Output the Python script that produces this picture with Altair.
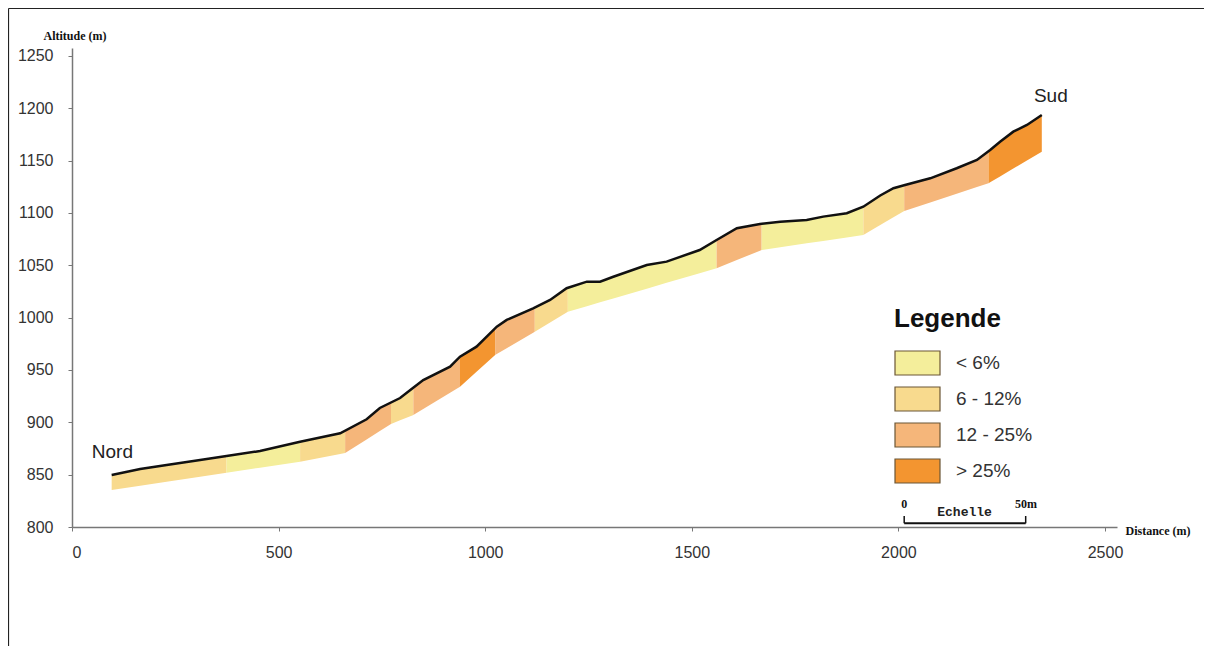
import altair as alt
import numpy as np
import pandas as pd

# ---- profile (top line): distance (m), altitude (m)
dist_top = [96, 165, 229, 310, 374, 455, 552, 649, 713, 745, 794, 825, 850, 915, 939,
            979, 1028, 1052, 1116, 1157, 1197, 1246, 1278, 1310, 1391, 1439, 1519,
            1560, 1609, 1665, 1714, 1778, 1818, 1875, 1915, 1956, 1988, 2016, 2077,
            2141, 2190, 2222, 2246, 2278, 2311, 2347]
alt_top = [849.7, 855.4, 859.2, 864.0, 867.8, 872.6, 881.5, 889.5, 902.9, 913.7, 923.2,
           932.8, 940.4, 953.2, 962.7, 972.3, 991.4, 997.8, 1008.9, 1016.9, 1028.1,
           1034.4, 1034.4, 1039.1, 1050.3, 1053.5, 1064.6, 1074.2, 1085.4, 1089.5,
           1091.7, 1093.3, 1096.5, 1099.7, 1106.0, 1116.7, 1123.6, 1126.7, 1133.1,
           1142.7, 1150.6, 1160.2, 1168.1, 1177.7, 1184.1, 1193.6]

# ---- slope segments: boundaries (m), base altitude at boundaries, class
seg_break_dist = [96, 374, 552, 661, 772, 826, 939, 1024, 1120, 1200, 1560, 1669,
                  1915, 2014, 2218, 2347]
seg_base_alt = [835.3, 851.9, 862.4, 870.7, 898.4, 907.0, 934.0, 964.3, 986.6,
                1005.7, 1047.2, 1064.6, 1079.0, 1101.9, 1128.4, 1158.6]
seg_class = ["6 - 12%", "< 6%", "6 - 12%", "12 - 25%", "6 - 12%", "12 - 25%",
             "> 25%", "12 - 25%", "6 - 12%", "< 6%", "12 - 25%", "< 6%",
             "6 - 12%", "12 - 25%", "> 25%"]

class_names = ["< 6%", "6 - 12%", "12 - 25%", "> 25%"]
class_colors = ["#F4EE9B", "#F8DA8E", "#F5B67A", "#F39530"]

x_ticks = [0, 500, 1000, 1500, 2000, 2500]
y_ticks = [800, 850, 900, 950, 1000, 1050, 1100, 1150, 1200, 1250]

# labels
place_names = ["Nord", "Sud"]
place_dist = [48, 2328]
place_alt = [871.7, 1211.8]

# scale bar ("Echelle")
bar_dist = [2014, 2308]
bar_alt = 803.5
bar_tick_alt = 810.5
bar_texts = ["0", "Echelle", "50m"]
bar_text_dist = [2014, 2160, 2309]
bar_text_alt = [822.0, 814.5, 822.0]

# ---- build tables
rows = []
for i, cls in enumerate(seg_class):
    a, b = seg_break_dist[i], seg_break_dist[i + 1]
    xs = [a] + [d for d in dist_top if a < d < b] + [b]
    tops = np.interp(xs, dist_top, alt_top)
    bots = np.interp(xs, [a, b], [seg_base_alt[i], seg_base_alt[i + 1]])
    for x, t, bt in zip(xs, tops, bots):
        rows.append({"seg": i, "classe": cls, "d": x, "top": t, "bot": bt})
area_df = pd.DataFrame(rows)
line_df = pd.DataFrame({"d": dist_top, "alt": alt_top})
place_df = pd.DataFrame({"name": place_names, "d": place_dist, "alt": place_alt})
bar_df = pd.DataFrame({"d": [bar_dist[0]], "d2": [bar_dist[1]], "alt": [bar_alt]})
bar_ticks_df = pd.DataFrame({"d": bar_dist, "alt": [bar_alt] * 2, "alt2": [bar_tick_alt] * 2})
bar_text_df = pd.DataFrame({"t": bar_texts, "d": bar_text_dist, "alt": bar_text_alt})

XMAX = 2529
YMAX = 1257.6
xscale = alt.Scale(domain=[0, XMAX], nice=False, zero=False)
yscale = alt.Scale(domain=[800, YMAX], nice=False, zero=False)

xaxis = alt.Axis(values=x_ticks, format="d", title="Distance (m)", grid=False, tickSize=4,
                 labelPadding=13, labelFontSize=16, labelFont="Liberation Sans",
                 labelColor="#333", domainColor="#777", tickColor="#777",
                 domainWidth=1.5, titleFont="Liberation Serif", titleFontSize=12,
                 titleFontWeight="bold", titleColor="#111", titleAngle=0,
                 titleAlign="left", titleBaseline="middle", titleX=1053, titleY=3)
yaxis = alt.Axis(values=y_ticks, format="d", title="Altitude (m)", grid=False, tickSize=4,
                 labelPadding=15, labelFontSize=16, labelFont="Liberation Sans",
                 labelColor="#333", domainColor="#777", tickColor="#777",
                 domainWidth=1.5, titleFont="Liberation Serif", titleFontSize=12,
                 titleFontWeight="bold", titleColor="#111", titleAngle=0,
                 titleAlign="left", titleBaseline="middle", titleX=-29, titleY=-13)

frame_df = pd.DataFrame({"k": [0]})
frame_left = alt.Chart(frame_df).mark_rule(stroke="#222", strokeWidth=1.2).encode(
    x=alt.value(-63.5), y=alt.value(-39.5), y2=alt.value(800)
)
frame_top = alt.Chart(frame_df).mark_rule(stroke="#222", strokeWidth=1.2).encode(
    x=alt.value(-63.5), x2=alt.value(1400), y=alt.value(-39.5)
)

areas = alt.Chart(area_df).mark_area(interpolate="linear", opacity=1).encode(
    x=alt.X("d:Q", scale=xscale, axis=xaxis),
    y=alt.Y("top:Q", scale=yscale, axis=yaxis),
    y2="bot:Q",
    detail="seg:N",
    color=alt.Color(
        "classe:N",
        scale=alt.Scale(domain=class_names, range=class_colors),
        legend=alt.Legend(
            title="Legende", orient="none", legendX=822, legendY=258,
            symbolType="M-1,-1H2.75V1H-1Z", symbolSize=576,
            symbolStrokeColor="#6b5636", symbolStrokeWidth=1.2, symbolOpacity=1,
            labelFontSize=19, labelFont="Liberation Sans", labelColor="#333",
            labelOffset=36, titleFontSize=26, titleFont="Liberation Sans",
            titleFontWeight="bold", titleColor="#111", titlePadding=18,
            rowPadding=6, padding=0,
        ),
    ),
)

line = alt.Chart(line_df).mark_line(color="#111", strokeWidth=2.5).encode(
    x=alt.X("d:Q", scale=xscale), y=alt.Y("alt:Q", scale=yscale)
)

places = alt.Chart(place_df).mark_text(
    align="left", baseline="middle", fontSize=19, font="Liberation Sans", color="#222"
).encode(x="d:Q", y="alt:Q", text="name:N")

bar = alt.Chart(bar_df).mark_rule(color="#111", strokeWidth=2).encode(
    x="d:Q", x2="d2:Q", y="alt:Q"
)
bar_ticks = alt.Chart(bar_ticks_df).mark_rule(color="#111", strokeWidth=1.5).encode(
    x="d:Q", y="alt:Q", y2="alt2:Q"
)
bar_text_num = alt.Chart(bar_text_df[bar_text_df.t != "Echelle"]).mark_text(
    align="center", baseline="middle", fontSize=12, font="Liberation Serif",
    fontWeight="bold", color="#111"
).encode(x="d:Q", y="alt:Q", text="t:N")
bar_text_word = alt.Chart(bar_text_df[bar_text_df.t == "Echelle"]).mark_text(
    align="center", baseline="middle", fontSize=13, font="Liberation Mono",
    fontWeight="bold", color="#222"
).encode(x="d:Q", y="alt:Q", text="t:N")

chart = alt.layer(
    frame_left, frame_top, areas, line, places, bar, bar_ticks, bar_text_num, bar_text_word
).properties(
    width=1045, height=479,
    background="white",
    autosize=alt.AutoSizeParams(type="none"),
    padding={"left": 64, "top": 40, "right": 87, "bottom": 119},
).configure_view(strokeWidth=0, stroke="transparent")

chart.save("out.html", embed_options={"renderer": "svg", "actions": False})
